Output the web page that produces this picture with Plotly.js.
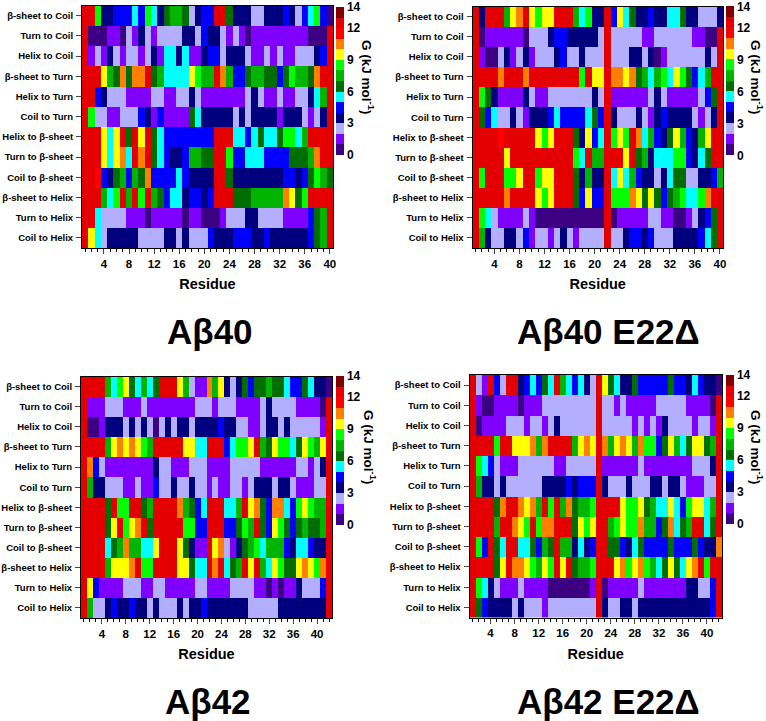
<!DOCTYPE html>
<html><head><meta charset="utf-8">
<script src="https://cdn.plot.ly/plotly-3.0.1.min.js"></script>
<style>html,body{margin:0;padding:0;background:#fff}</style></head>
<body><div id="chart" style="width:766px;height:721px"></div>
<script>
const transitions = ["β-sheet to Coil","Turn to Coil","Helix to Coil","β-sheet to Turn","Helix to Turn","Coil to Turn","Helix to β-sheet","Turn to β-sheet","Coil to β-sheet","β-sheet to Helix","Turn to Helix","Coil to Helix"];
const residues40 = [1,2,3,4,5,6,7,8,9,10,11,12,13,14,15,16,17,18,19,20,21,22,23,24,25,26,27,28,29,30,31,32,33,34,35,36,37,38,39,40];
const residues42 = [1,2,3,4,5,6,7,8,9,10,11,12,13,14,15,16,17,18,19,20,21,22,23,24,25,26,27,28,29,30,31,32,33,34,35,36,37,38,39,40,41,42];
const ticks = [4,8,12,16,20,24,28,32,36,40];
const cbTicks = [0,3,6,9,12,14];
// lower edge of the colour bin of each cell (kJ/mol)
const ab40 = [
[12,12,8,3,3,4,4,4,5,4,8,5,3,6,7,7,6,2,3,4,4,12,12,6,3,3,3,2,2,3,3,3,4,3,2,4,5,8,4,0],
[12,0,0,0,1,1,0,2,1,3,2,1,2,2,2,2,3,3,2,4,3,3,2,1,2,1,0,1,1,1,1,1,1,1,1,1,0,0,0,12],
[12,1,2,1,3,2,1,2,2,1,2,3,1,5,5,3,5,1,1,3,4,4,2,3,3,3,2,1,1,2,1,2,1,1,2,2,2,3,4,12],
[12,12,12,9,7,6,10,6,10,10,12,6,7,5,5,5,5,9,8,7,7,12,10,7,4,4,6,7,7,6,6,4,6,8,7,7,6,10,12,12],
[12,12,4,3,2,2,2,1,1,1,1,2,2,1,1,2,2,3,2,1,1,1,1,1,1,1,2,3,2,1,1,2,1,1,2,2,3,5,7,12],
[12,8,2,2,1,1,2,2,2,4,3,1,4,1,1,1,1,6,5,3,3,3,3,3,2,3,2,3,3,3,3,1,3,3,3,2,1,2,3,12],
[12,12,12,9,5,9,12,6,12,9,12,6,5,4,4,4,4,4,4,4,4,12,12,12,5,5,4,5,6,5,5,6,8,8,5,7,12,12,12,12],
[12,12,12,9,5,9,10,5,12,10,12,6,5,4,3,3,4,7,7,6,6,12,12,8,4,4,5,5,5,4,4,4,4,6,6,6,7,10,12,12],
[12,12,11,4,3,6,7,4,7,6,10,4,4,4,4,5,4,3,3,3,3,12,12,6,3,3,3,3,3,3,3,3,4,4,3,4,6,8,7,6],
[12,12,12,7,5,8,12,7,12,8,12,7,6,4,5,5,3,4,4,3,4,12,12,12,6,6,6,7,7,7,7,7,10,9,6,8,12,12,12,12],
[12,12,5,2,2,2,2,1,1,1,0,1,1,1,1,1,0,1,1,0,0,0,1,2,2,2,3,3,2,2,2,2,1,1,1,1,4,6,7,12],
[12,9,5,2,3,3,3,3,3,2,2,2,2,3,3,2,3,2,2,2,4,3,3,3,4,4,4,3,3,4,3,3,3,3,3,3,4,6,7,12]];
const ab40E22 = [
[12,3,12,12,12,7,9,10,12,9,8,9,9,12,12,12,7,5,8,3,3,12,4,9,5,6,3,3,4,3,3,5,5,6,3,3,2,2,2,3],
[12,0,1,1,1,1,1,1,0,2,2,2,3,4,4,3,3,3,3,3,2,12,2,2,2,2,2,1,1,2,2,2,2,2,2,1,1,0,0,12],
[12,1,0,0,2,3,1,2,3,1,2,2,2,3,4,2,2,3,2,2,2,12,2,2,2,3,3,2,3,0,1,2,2,2,2,2,2,3,2,12],
[12,12,12,12,10,12,12,12,10,12,12,12,12,12,12,12,12,8,12,9,9,12,10,10,9,10,6,7,5,7,8,5,9,8,6,4,5,7,12,12],
[12,8,6,3,1,1,1,1,3,2,1,1,2,2,2,2,2,2,2,3,2,12,1,1,1,1,1,1,2,3,2,1,1,1,1,1,2,4,6,12],
[12,6,4,5,2,2,3,2,1,3,3,3,4,5,4,4,4,4,5,6,4,12,3,2,2,2,3,2,1,3,4,3,3,3,3,2,1,2,3,12],
[12,12,12,12,11,12,12,12,12,12,9,8,9,12,12,12,6,3,9,4,5,12,8,9,8,12,10,5,7,4,3,6,9,7,4,3,7,9,12,12],
[12,12,12,12,12,9,12,12,12,12,12,12,12,12,12,12,8,5,12,7,7,12,12,12,9,12,6,7,3,5,5,5,8,8,4,3,5,6,12,12],
[12,8,12,12,12,8,8,9,12,12,8,9,9,12,12,12,6,3,7,3,3,12,5,9,5,7,4,3,3,2,3,5,6,6,2,2,3,3,4,7],
[12,12,12,12,12,10,12,12,12,12,9,8,9,12,12,12,6,4,9,4,4,12,8,8,8,10,9,6,9,6,4,6,7,8,5,5,8,10,12,12],
[12,8,5,2,1,1,1,1,2,1,0,0,0,0,0,0,0,0,0,0,0,12,0,1,1,1,1,1,2,2,1,1,0,0,1,2,3,4,6,12],
[12,7,3,2,2,3,3,2,4,1,2,2,1,2,3,2,1,2,2,2,2,12,2,2,3,4,4,3,4,2,2,2,3,3,3,3,4,5,6,12]];
const ab42 = [
[12,12,12,12,7,5,8,9,6,5,7,5,6,12,12,12,9,7,2,1,1,10,7,9,3,2,3,6,4,6,6,7,6,6,5,4,4,6,5,3,3,0],
[12,1,1,1,2,2,2,1,1,1,2,1,1,1,1,1,1,1,1,2,2,2,1,2,2,2,1,1,1,1,2,3,2,2,2,2,1,1,1,1,0,12],
[12,0,0,1,3,3,3,2,3,2,3,2,0,2,3,2,3,3,2,3,3,3,3,4,3,3,2,2,1,1,2,3,3,2,3,2,2,2,2,2,1,12],
[12,12,12,12,7,9,10,9,10,9,8,7,12,12,12,12,12,9,9,5,5,12,12,12,4,5,8,8,9,12,7,6,9,8,8,5,6,9,8,7,9,12],
[12,10,4,2,1,1,1,1,1,1,1,1,3,2,2,1,1,1,2,2,2,1,1,1,1,2,2,2,2,2,1,1,1,1,1,1,2,2,1,2,3,12],
[12,7,3,3,2,2,2,1,1,2,1,1,4,2,2,3,2,2,3,2,2,1,2,1,1,2,2,1,2,3,3,3,2,3,3,2,1,1,1,2,2,12],
[12,12,12,12,6,12,8,8,12,12,6,7,12,12,12,12,10,7,6,4,5,12,12,12,5,5,7,12,9,10,6,4,10,10,5,4,8,9,8,7,7,12],
[12,12,12,12,6,9,12,8,9,10,12,6,12,12,12,12,12,8,8,4,4,12,12,12,4,4,6,8,7,12,6,4,9,8,6,4,6,7,6,6,7,12],
[12,12,12,12,5,6,7,10,7,7,5,5,9,12,12,12,9,6,3,1,1,12,9,10,2,1,3,6,7,8,5,7,7,7,4,3,5,5,4,3,3,12],
[12,12,12,12,7,9,9,9,10,12,8,8,12,12,12,12,9,9,6,5,5,12,10,12,5,6,7,12,9,12,7,5,9,8,6,6,9,10,9,8,10,12],
[12,9,4,1,1,1,1,2,2,2,1,1,2,2,1,1,1,1,1,2,2,1,1,1,1,2,2,2,2,1,1,0,1,0,1,1,3,2,2,2,4,12],
[12,7,2,2,3,4,3,3,4,3,3,2,3,2,2,2,3,2,3,3,4,3,3,3,3,3,3,3,2,2,2,2,2,3,3,3,3,3,3,3,3,12]];
const ab42E22 = [
[12,2,1,12,4,2,12,12,3,4,5,4,6,5,12,7,5,4,5,3,2,12,9,6,5,3,3,6,4,4,4,4,4,6,4,4,3,5,4,3,3,0],
[12,1,0,0,1,1,1,1,0,1,1,1,2,2,2,2,2,2,2,2,2,12,2,2,1,2,1,1,1,1,1,2,2,2,2,2,1,1,1,1,0,12],
[12,0,1,1,1,1,2,2,2,1,2,2,1,2,3,2,2,2,2,2,2,12,2,2,2,2,2,1,2,1,2,1,3,2,2,2,2,1,2,2,1,12],
[12,12,12,12,8,12,12,9,9,9,10,7,10,12,12,12,12,7,9,10,9,12,10,7,9,10,9,7,10,8,8,4,6,9,7,5,6,9,9,6,7,12],
[12,8,5,4,2,1,1,1,2,2,2,2,2,2,1,1,2,2,2,2,2,12,1,1,1,1,1,1,2,1,1,1,1,1,1,1,1,2,2,2,3,12],
[12,7,3,3,2,3,2,2,2,2,2,2,3,3,3,3,4,3,4,4,4,12,3,2,2,2,3,2,2,2,3,3,2,3,3,2,1,1,1,2,2,12],
[12,12,12,12,6,10,12,12,10,9,10,7,12,8,12,7,10,6,7,7,8,12,12,12,12,9,8,8,9,6,7,5,5,9,5,4,8,9,9,5,7,12],
[12,12,12,12,7,12,12,10,9,8,12,8,10,10,12,12,12,6,9,8,9,12,12,7,8,9,8,8,10,7,7,4,6,10,5,6,7,12,12,5,6,12],
[12,8,4,12,6,5,12,12,5,5,6,4,7,6,12,7,7,3,5,3,4,12,12,6,6,4,3,5,6,4,4,4,4,6,4,4,4,6,4,3,3,10],
[12,12,12,12,6,9,12,10,10,9,8,7,9,8,12,9,12,6,7,7,8,12,12,12,9,10,8,9,10,8,7,5,6,9,6,5,9,10,12,8,12,12],
[12,8,5,3,2,1,1,1,2,1,1,1,1,0,0,0,0,0,0,0,1,12,0,1,1,1,1,1,2,1,1,1,1,1,1,1,3,3,2,2,4,12],
[12,6,4,3,3,3,3,2,3,2,2,2,1,2,2,2,2,2,2,2,2,12,3,2,2,3,3,2,3,3,3,3,3,3,3,3,3,3,3,3,4,12]];
const binColors = ["#3c0082","#7f00ff","#b4aeff","#00007f","#0000ff","#00ffff","#006e00","#00b400","#00ff00","#ffff00","#ff8000","#ff0000","#e40000","#800000"];
const W = 766, H = 721;
const font = "Liberation Sans, Arial, sans-serif";
const scale = [];
binColors.forEach((c,k)=>{scale.push([k/14,c]); scale.push([(k+1)/14-(k==13?0:0.0005),c]);});
const panels = [
 {name:"Aβ40", z:ab40, x:residues40, px:[82,333], py:[5.5,248], cb:[336,343.5,7,155], tx:209.5, ty:331, gx:368, gy:77},
 {name:"Aβ40 E22Δ", z:ab40E22, x:residues40, px:[472.5,723], py:[6.5,248], cb:[725.5,733,7,155.5], tx:608.5, ty:331, gx:757, gy:77},
 {name:"Aβ42", z:ab42, x:residues42, px:[81,332], py:[376.5,618], cb:[336,343.5,376.5,525], tx:207.5, ty:701, gx:370, gy:447},
 {name:"Aβ42 E22Δ", z:ab42E22, x:residues42, px:[469.5,722], py:[375,617.5], cb:[725.5,733,375,524], tx:608.5, ty:701, gx:757, gy:447}
];
const data = [], layout = {width:W,height:H,margin:{l:0,r:0,t:0,b:0},paper_bgcolor:"#fff",plot_bgcolor:"#fff",font:{family:font,color:"#000"},annotations:[],showlegend:false};
panels.forEach((p,i)=>{
  const s = i===0?"":String(i+1);
  data.push({type:"heatmap",z:p.z,x:p.x,y:transitions,xaxis:"x"+s,yaxis:"y"+s,zmin:0,zmax:14,colorscale:scale,xgap:0,ygap:0,
    colorbar:{x:p.cb[0]/W,xanchor:"left",xpad:0,ypad:0,thickness:p.cb[1]-p.cb[0],thicknessmode:"pixels",
      y:1-p.cb[3]/H,yanchor:"bottom",len:(p.cb[3]-p.cb[2])/H,lenmode:"fraction",tickmode:"array",tickvals:cbTicks,ticks:"",ticklabeloverflow:"allow",
      tickfont:{family:font,size:12,weight:700},outlinewidth:0}});
  layout["xaxis"+s] = {domain:[p.px[0]/W,p.px[1]/W],range:[0.5,p.x.length+0.5],anchor:"y"+s,tickmode:"array",tickvals:ticks,ticks:"outside",ticklen:5,tickwidth:1,
    minor:{dtick:1,ticks:"outside",ticklen:3,tickwidth:1,tickcolor:"#000"},showgrid:false,zeroline:false,showline:true,linecolor:"#000",linewidth:1,mirror:true,
    tickfont:{family:font,size:11.5,weight:700},title:{text:"Residue",standoff:10,font:{family:font,size:14.5,weight:700}}};
  layout["yaxis"+s] = {domain:[1-p.py[1]/H,1-p.py[0]/H],autorange:"reversed",anchor:"x"+s,ticks:"outside",ticklen:5,tickwidth:1,ticklabelstandoff:1,showgrid:false,zeroline:false,showline:true,linecolor:"#000",linewidth:1,mirror:true,
    tickfont:{family:font,size:9.5,weight:700},type:"category",ticklabeloverflow:"allow"};
  layout.annotations.push({text:p.name,xref:"paper",yref:"paper",x:p.tx/W,y:1-p.ty/H,xanchor:"center",yanchor:"middle",showarrow:false,font:{family:font,size:35,weight:700}});
  layout.annotations.push({text:"G (kJ mol<sup>-1</sup>)",xref:"paper",yref:"paper",x:p.gx/W,y:1-p.gy/H,xanchor:"center",yanchor:"middle",textangle:90,showarrow:false,font:{family:font,size:13.5,weight:700}});
});
Plotly.newPlot("chart",data,layout,{displayModeBar:false,responsive:false});
</script></body></html>
